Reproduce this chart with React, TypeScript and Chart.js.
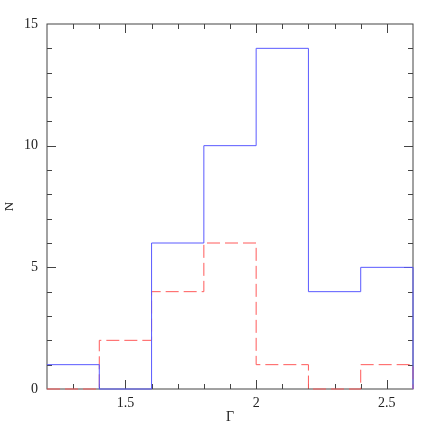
import React, { useEffect, useRef } from "react";
import { Chart, registerables } from "chart.js";

Chart.register(...registerables);

const binEdges = [1.2, 1.4, 1.6, 1.8, 2.0, 2.2, 2.4, 2.6];
const blueCounts = [1, 0, 6, 10, 14, 4, 5];
const redCounts = [0, 2, 4, 6, 1, 0, 1];
const xLabelValues = [1.5, 2, 2.5];
const yLabelValues = [0, 5, 10, 15];

function stepPoints(counts: number[]) {
  const pts: { x: number; y: number }[] = counts.map((c, i) => ({ x: binEdges[i], y: c }));
  const last = binEdges[binEdges.length - 1];
  pts.push({ x: last, y: counts[counts.length - 1] });
  pts.push({ x: last, y: 0 });
  return pts;
}

const FONT = "'Liberation Serif', 'DejaVu Serif', serif";

const framePlugin = {
  id: "frameTicks",
  beforeDatasetsDraw(chart: any) {
    const { ctx, chartArea } = chart;
    const { left, right, top, bottom } = chartArea;
    const xs = chart.scales.x;
    const ys = chart.scales.y;
    ctx.save();
    ctx.strokeStyle = "#444";
    ctx.lineWidth = 1;
    ctx.strokeRect(left, top, right - left, bottom - top);
    ctx.beginPath();
    xs.ticks.forEach((t: any) => {
      const v = t.value;
      const major = Math.abs(v * 2 - Math.round(v * 2)) < 1e-6;
      const len = major ? 9 : 5;
      const px = Math.round(xs.getPixelForValue(v)) + 0.5;
      if (px <= left + 1 || px >= right - 1) return;
      ctx.moveTo(px, bottom);
      ctx.lineTo(px, bottom - len);
      ctx.moveTo(px, top);
      ctx.lineTo(px, top + len);
    });
    ys.ticks.forEach((t: any) => {
      const v = t.value;
      const major = Math.abs(v / 5 - Math.round(v / 5)) < 1e-6;
      const len = major ? 9 : 5;
      const py = Math.round(ys.getPixelForValue(v)) + 0.5;
      if (py <= top + 1 || py >= bottom - 1) return;
      ctx.moveTo(left, py);
      ctx.lineTo(left + len, py);
      ctx.moveTo(right, py);
      ctx.lineTo(right - len, py);
    });
    ctx.stroke();
    ctx.restore();
  },
};

export default function App() {
  const ref = useRef<HTMLCanvasElement | null>(null);
  useEffect(() => {
    if (!ref.current) return;
    const chart = new Chart(ref.current, {
      type: "line",
      data: {
        datasets: [
          {
            label: "blue",
            data: stepPoints(blueCounts),
            borderColor: "#5a5aff",
            borderWidth: 1,
            stepped: "before",
            pointRadius: 0,
            fill: false,
            clip: 3,
          } as any,
          {
            label: "red",
            data: stepPoints(redCounts),
            borderColor: "#ff5a5a",
            borderWidth: 1,
            borderDash: [13, 5],
            stepped: "before",
            pointRadius: 0,
            fill: false,
            clip: 3,
          } as any,
        ],
      },
      options: {
        animation: false,
        responsive: true,
        maintainAspectRatio: false,
        layout: { padding: { top: 24, right: 23, left: 0, bottom: 0 } },
        plugins: { legend: { display: false }, tooltip: { enabled: false } },
        scales: {
          x: {
            type: "linear",
            min: 1.2,
            max: 2.6,
            grid: { display: false, drawTicks: false },
            border: { display: false },
            ticks: {
              stepSize: 0.1,
              autoSkip: false,
              maxRotation: 0,
              padding: 6,
              color: "#222",
              font: { family: FONT, size: 14 },
              callback: (v: any) => {
                const n = Number(v);
                const hit = xLabelValues.find((l) => Math.abs(l - n) < 1e-6);
                return hit !== undefined ? String(hit) : "";
              },
            },
            title: {
              display: true,
              text: "Γ",
              color: "#222",
              font: { family: FONT, size: 14 },
              padding: { top: 0, bottom: 10 },
            },
            afterFit: (s: any) => {
              s.height = 47;
            },
          },
          y: {
            type: "linear",
            min: 0,
            max: 15,
            grid: { display: false, drawTicks: false },
            border: { display: false },
            ticks: {
              stepSize: 1,
              autoSkip: false,
              padding: 9,
              color: "#222",
              font: { family: FONT, size: 14 },
              callback: (v: any) => {
                const n = Number(v);
                const hit = yLabelValues.find((l) => Math.abs(l - n) < 1e-6);
                return hit !== undefined ? String(hit) : "";
              },
            },
            title: {
              display: true,
              text: "N",
              color: "#222",
              font: { family: FONT, size: 13 },
              padding: { top: 2, bottom: 0 },
            },
            afterFit: (s: any) => {
              s.width = 47;
            },
          },
        },
      },
      plugins: [framePlugin],
    });
    return () => chart.destroy();
  }, []);
  return (
    <div style={{ position: "fixed", left: 0, top: 0, width: 436, height: 436, background: "#fff" }}>
      <canvas ref={ref} />
    </div>
  );
}
